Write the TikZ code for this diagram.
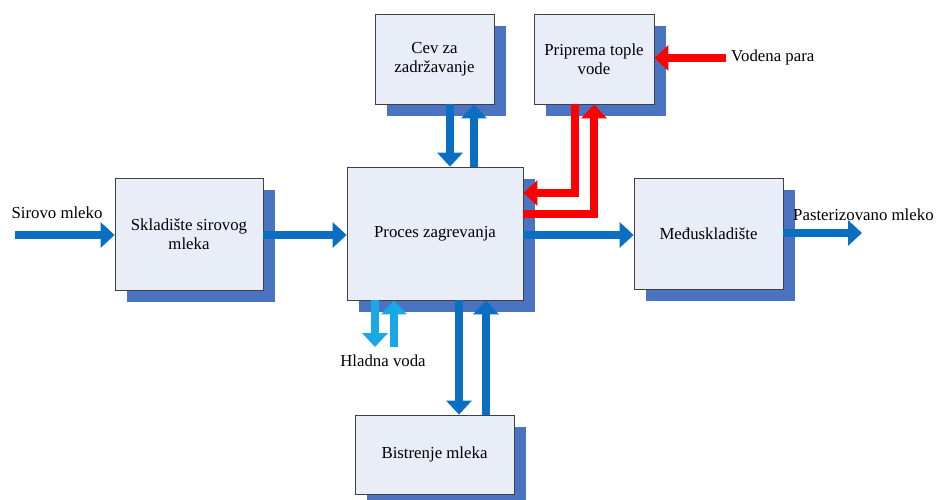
\documentclass[tikz,border=0pt]{standalone}
\usepackage{fontspec}
\setmainfont{Liberation Serif}
\usetikzlibrary{arrows.meta,shadows}
\definecolor{boxfill}{HTML}{E9EDF8}
\definecolor{shadowblue}{HTML}{4A73C2}
\definecolor{flowblue}{HTML}{0A6FC2}
\definecolor{coldblue}{HTML}{1AA7E6}
\definecolor{hotred}{HTML}{FF0000}
\begin{document}
\begin{tikzpicture}[x=1pt,y=-1pt,
  font=\rmfamily\fontsize{16.8}{19.5}\selectfont,
  box/.style={draw=black!75,line width=0.8pt,fill=boxfill,align=center,inner sep=0pt,
    general shadow={fill=shadowblue,shadow xshift=12pt,shadow yshift=-12pt}},
  flow/.style={line width=8pt,-{Triangle[width=25pt,length=14pt]}},
  lbl/.style={inner sep=0pt}]
\useasboundingbox (0,0) rectangle (937,499);
% boxes
\node[box,minimum width=119pt,minimum height=90pt] (cev) at (434.5,59) {Cev za\\zadržavanje};
\node[box,minimum width=120pt,minimum height=90pt] (prip) at (594,59) {Priprema tople\\vode};
\node[box,minimum width=176pt,minimum height=133pt] (proc) at (435,233.5) {Proces zagrevanja};
\node[box,minimum width=148pt,minimum height=112pt] (skl) at (189,234) {Skladište sirovog\\mleka};
\node[box,minimum width=149pt,minimum height=111pt] (med) at (708.5,233.5) {Međuskladište};
\node[box,minimum width=159pt,minimum height=79pt] (bis) at (434.5,454.5) {Bistrenje mleka};
% labels
\node[lbl] (sirovo) at (57,213) {Sirovo mleko};
\node[lbl,anchor=west] (past) at (793,215) {Pasterizovano mleko};
\node[lbl,anchor=west] (vod) at (731,57) {Vodena para};
\node[lbl] (hlad) at (383,361) {Hladna voda};
% free ends
\coordinate (sin) at (15,235);
\coordinate (pout) at (862,233);
\coordinate (vin) at (726,58);
\coordinate (hd) at (375,347);
\coordinate (hu) at (394,347);
% main flow
\draw[flow,flowblue] (sin) -- (skl.west |- sin);
\draw[flow,flowblue] (skl.east |- sin) -- (proc.west |- sin);
\draw[flow,flowblue] (proc.east |- 0,235) -- (med.west |- 0,235);
\draw[flow,flowblue] (med.east |- pout) -- (pout);
% cev
\draw[flow,flowblue] (cev.south -| 450,0) -- (proc.north -| 450,0);
\draw[flow,flowblue] (proc.north -| 474,0) -- (cev.south -| 474,0);
% bistrenje
\draw[flow,flowblue] (proc.south -| 459,0) -- (bis.north -| 459,0);
\draw[flow,flowblue] (bis.north -| 486,0) -- (proc.south -| 486,0);
% hladna voda
\draw[flow,coldblue] (proc.south -| hd) -- (hd);
\draw[flow,coldblue] (hu) -- (proc.south -| hu);
% red
\draw[flow,hotred] (vin) -- (prip.east |- vin);
\draw[flow,hotred] (prip.south -| 575,0) |- (proc.east |- 0,193);
\draw[flow,hotred] (proc.east |- 0,214) -| (prip.south -| 594,0);
\end{tikzpicture}
\end{document}
